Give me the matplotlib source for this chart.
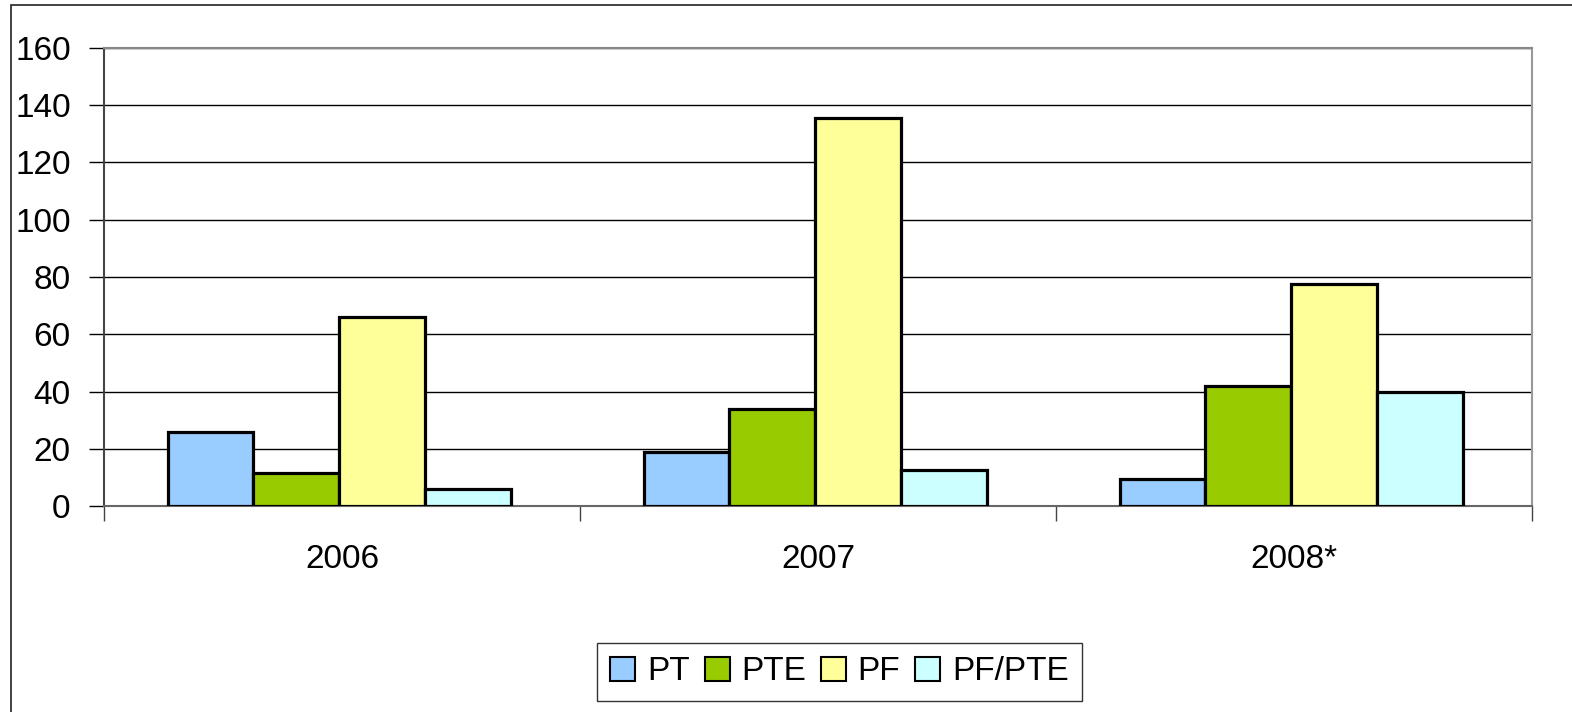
import matplotlib
matplotlib.use("Agg")
import matplotlib.pyplot as plt
import numpy as np
from matplotlib.patches import Rectangle

categories = ["2006", "2007", "2008*"]
series_names = ["PT", "PTE", "PF", "PF/PTE"]
pt = [26, 19, 9.5]
pte = [11.5, 34, 42]
pf = [66, 135.5, 77.5]
pf_pte = [6, 12.5, 40]
colors = ["#99CCFF", "#99CC00", "#FFFF99", "#CCFFFF"]
yticks = [0, 20, 40, 60, 80, 100, 120, 140, 160]

plt.rcParams['font.family'] = ['Liberation Sans', 'DejaVu Sans']

W, H = 1572, 712
FS = 24
fig = plt.figure(figsize=(W / 100, H / 100), dpi=100)
fig.patch.set_facecolor("white")

# outer chart frame
fig.patches.append(Rectangle((11 / W, -0.02), 1.02 - 11 / W, 1 - 5 / H + 0.02,
                             transform=fig.transFigure, fill=False,
                             edgecolor="#222222", linewidth=1.2))

ax = fig.add_axes([104 / W, (H - 506) / H, 1428 / W, 458 / H])
x = np.arange(len(categories))
bw = 0.18
all_series = [pt, pte, pf, pf_pte]
for i, (name, vals) in enumerate(zip(series_names, all_series)):
    ax.bar(x - 0.006 + (i - 1.5) * bw, vals, width=bw, color=colors[i],
           edgecolor="black", linewidth=2.3, label=name, zorder=3)

ax.set_xlim(-0.5, len(categories) - 0.5)
ax.set_ylim(0, 160)
ax.set_yticks(yticks)
ax.set_yticklabels([str(v) for v in yticks], fontsize=FS)
ax.yaxis.grid(True, color="black", linewidth=1.0, zorder=0)
ax.set_axisbelow(True)

ax.set_xticks(np.arange(-0.5, len(categories), 1.0))
ax.set_xticklabels([])
ax.set_xticks(x, minor=True)
ax.set_xticklabels(categories, minor=True, fontsize=FS)
ax.tick_params(axis="x", which="major", direction="out", length=11, width=1, color="#444444")
ax.tick_params(axis="x", which="minor", length=0, pad=27)
ax.tick_params(axis="y", direction="out", length=11, width=1, color="black", pad=13)

ax.spines["left"].set_color("#444444")
ax.spines["left"].set_linewidth(1.5)
ax.spines["bottom"].set_color("#666666")
ax.spines["bottom"].set_linewidth(1.5)
ax.spines["top"].set_color("#888888")
ax.spines["top"].set_linewidth(1.5)
ax.spines["right"].set_color("#999999")
ax.spines["right"].set_linewidth(1.5)

handles, labels = ax.get_legend_handles_labels()
leg = fig.legend(handles, labels, loc="center", ncol=4,
                 bbox_to_anchor=(839.5 / W, 1 - 672 / H),
                 fontsize=FS, frameon=True, fancybox=False,
                 edgecolor="black", handlelength=0.75, handleheight=0.75,
                 handletextpad=0.35, columnspacing=0.45, borderpad=0.4,
                 borderaxespad=0.3)
leg.get_frame().set_linewidth(1.0)
for p in leg.get_patches():
    p.set_linewidth(1.5)

fig.savefig("out.png", dpi=100, facecolor="white")
